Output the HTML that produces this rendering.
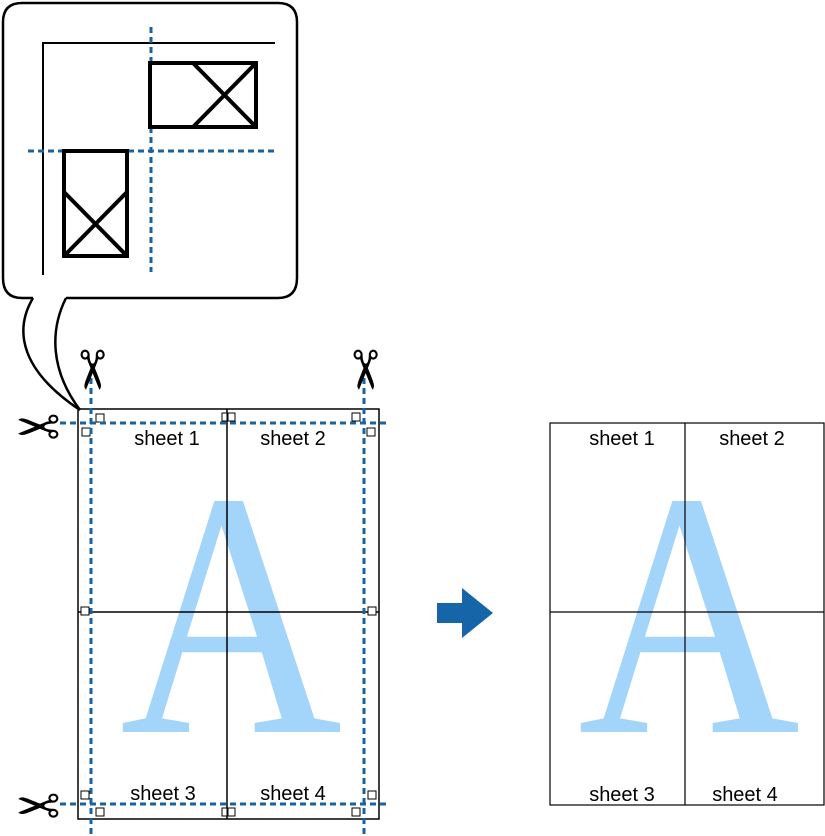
<!DOCTYPE html>
<html><head><style>
body{margin:0;background:#fff;width:825px;height:836px;overflow:hidden}
svg{display:block}
</style></head><body>
<svg width="825" height="836" viewBox="0 0 825 836" xmlns="http://www.w3.org/2000/svg">
<!-- bubble -->
<path d="M33,298 L22,298 Q3,298 3,278 L3,22 Q3,3 22,3 L278,3 Q297,3 297,22 L297,278 Q297,298 278,298 L66,298" fill="none" stroke="#000" stroke-width="2.5"/>
<path d="M33,298 C14,330 20,370 80,410" fill="none" stroke="#000" stroke-width="2.5"/>
<path d="M66,298 C50,330 50,370 80,410" fill="none" stroke="#000" stroke-width="2.5"/>
<g stroke="#000" stroke-width="2" fill="none">
<path d="M43,275 L43,43 L275,43"/>
</g>
<g stroke="#1a62a0" stroke-width="3" stroke-dasharray="6,4" fill="none">
<line x1="151" y1="27" x2="151" y2="272"/>
<line x1="28" y1="151" x2="275" y2="151"/>
</g>
<g stroke="#000" stroke-width="4" fill="none">
<rect x="150" y="63" width="106" height="64" fill="#fff"/>
<path d="M193,63 L256,127 M193,127 L256,63"/>
<rect x="64" y="151" width="63" height="105" fill="#fff"/>
<path d="M64,192 L127,256 M64,256 L127,192"/>
</g>
<!-- left page -->
<text transform="translate(231,732) scale(0.88,1)" font-family="Liberation Serif, serif" font-size="350" fill="#a3d5fb" text-anchor="middle">A</text>
<g stroke="#000" stroke-width="1.5" fill="none">
<rect x="78" y="409" width="301" height="410"/>
<line x1="227" y1="409" x2="227" y2="819"/>
<line x1="78" y1="612" x2="379" y2="612"/>
</g>
<g font-family="Liberation Sans, sans-serif" font-size="20" fill="#000" text-anchor="middle">
<text x="167" y="445">sheet 1</text><text x="293" y="445">sheet 2</text>
<text x="163" y="800">sheet 3</text><text x="293" y="800">sheet 4</text>
</g>
<g stroke="#000" stroke-width="1" fill="#fff">
<rect x="96" y="414" width="8" height="8"/><rect x="222" y="413" width="5" height="8"/><rect x="228" y="413" width="7" height="8"/><rect x="352" y="413" width="8" height="8"/>
<rect x="82" y="428" width="8" height="8"/><rect x="367" y="428" width="8" height="8"/>
<rect x="81" y="607" width="8" height="8"/><rect x="368" y="607" width="8" height="8"/>
<rect x="81" y="791" width="8" height="8"/><rect x="368" y="791" width="8" height="8"/>
<rect x="96" y="808" width="8" height="8"/><rect x="222" y="808" width="5" height="8"/><rect x="228" y="808" width="7" height="8"/><rect x="352" y="808" width="8" height="8"/>
</g>
<g stroke="#1a62a0" stroke-width="3" stroke-dasharray="6,4" fill="none">
<line x1="91" y1="378" x2="91" y2="836"/>
<line x1="364" y1="378" x2="364" y2="836"/>
<line x1="60" y1="423" x2="390" y2="423"/>
<line x1="60" y1="804" x2="390" y2="804"/>
</g>
<g font-family="DejaVu Sans, sans-serif" font-size="54" fill="#000" text-anchor="middle">
<text x="38" y="443" transform="rotate(180 38 425)">✂</text>
<text x="38" y="822" transform="rotate(180 38 804)">✂</text>
<text x="91" y="388" transform="rotate(90 91 370)">✂</text>
<text x="364" y="388" transform="rotate(90 364 370)">✂</text>
</g>
<!-- arrow -->
<path d="M437,603 L462,603 L462,588 L493,613 L462,638 L462,623 L437,623 Z" fill="#1565a8"/>
<!-- right page -->
<text transform="translate(689,732) scale(0.88,1)" font-family="Liberation Serif, serif" font-size="350" fill="#a3d5fb" text-anchor="middle">A</text>
<g stroke="#000" stroke-width="1.2" fill="none">
<rect x="550" y="423" width="274" height="382"/>
<line x1="685" y1="423" x2="685" y2="805"/>
<line x1="550" y1="612" x2="824" y2="612"/>
</g>
<g font-family="Liberation Sans, sans-serif" font-size="20" fill="#000" text-anchor="middle">
<text x="622" y="445">sheet 1</text><text x="752" y="445">sheet 2</text>
<text x="622" y="801">sheet 3</text><text x="745" y="801">sheet 4</text>
</g>
</svg>
</body></html>
